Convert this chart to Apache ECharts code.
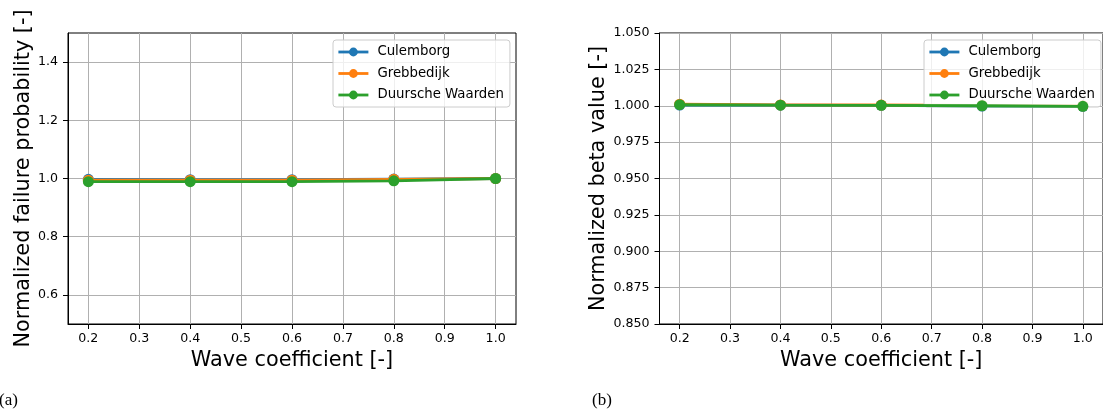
<!DOCTYPE html>
<html>
<head>
<meta charset="utf-8">
<script src="https://cdn.jsdelivr.net/npm/echarts@6/dist/echarts.min.js"></script>
<style>
  html, body { margin: 0; padding: 0; background: #ffffff; }
  #chart { width: 1103px; height: 416px; }
</style>
</head>
<body>
<div id="chart"></div>
<script>
// Wave coefficient sweep (x values shared by both panels)
const waveCoefficients = [0.2, 0.4, 0.6, 0.8, 1.0];
const locationNames = ['Culemborg', 'Grebbedijk', 'Duursche Waarden'];

// Panel (a): normalized failure probability
const failureCulemborg = [0.997, 0.996, 0.996, 0.998, 1.0];
const failureGrebbedijk = [0.994, 0.994, 0.994, 0.997, 1.0];
const failureDuursche = [0.989, 0.989, 0.989, 0.992, 1.0];

// Panel (b): normalized beta value
const betaCulemborg = [1.0005, 1.0004, 1.0003, 0.9998, 0.9996];
const betaGrebbedijk = [1.0011, 1.0006, 1.0005, 1.0003, 1.0];
const betaDuursche = [1.0007, 1.0004, 1.0003, 1.0, 0.9996];

// Tick positions
const xTicks = [0.2, 0.3, 0.4, 0.5, 0.6, 0.7, 0.8, 0.9, 1.0];
const failureTicks = [0.6, 0.8, 1.0, 1.2, 1.4];
const betaTicks = [0.85, 0.875, 0.9, 0.925, 0.95, 0.975, 1.0, 1.025, 1.05];

const colors = ['#1f77b4', '#ff7f0e', '#2ca02c'];
const FONT = 'DejaVu Sans';

function pairs(ys) {
  return waveCoefficients.map((x, i) => [x, ys[i]]);
}

function xAxisFor(gridIndex) {
  return {
    type: 'value', gridIndex: gridIndex,
    min: 0.16, max: 1.04, splitNumber: 9,
    name: 'Wave coefficient [-]', nameLocation: 'middle', nameGap: 26,
    nameTextStyle: { fontFamily: FONT, fontSize: 20.8, color: '#000' },
    axisLine: { show: true, onZero: false, lineStyle: { color: '#000', width: 1 } },
    axisTick: { show: true, length: 5, lineStyle: { color: '#000', width: 1 }, customValues: xTicks },
    axisLabel: { fontFamily: FONT, fontSize: 12.6, color: '#000', margin: 8,
                 customValues: xTicks, formatter: v => v.toFixed(1) },
    splitLine: { show: true, lineStyle: { color: '#b0b0b0', width: 1 } }
  };
}

function seriesFor(values, idx, xi) {
  return {
    name: locationNames[idx], type: 'line', xAxisIndex: xi, yAxisIndex: xi,
    data: pairs(values), symbol: 'circle', symbolSize: 11, showSymbol: true,
    lineStyle: { color: colors[idx], width: 2.8 },
    itemStyle: { color: colors[idx] },
    z: 2 + idx, animation: false
  };
}

function legendAt(left) {
  return {
    left: left, top: 40, orient: 'vertical',
    data: locationNames,
    itemWidth: 30, itemHeight: 11, itemGap: 8.5,
    padding: [5.5, 6, 5.5, 4],
    borderColor: '#cccccc', borderWidth: 1, borderRadius: 3,
    backgroundColor: 'rgba(255,255,255,0.8)',
    lineStyle: { width: 2.8 },
    textStyle: { fontFamily: FONT, fontSize: 13.3, color: '#000', padding: [0, 0, 0, 4] },
    selectedMode: false
  };
}

const chart = echarts.init(document.getElementById('chart'), null, { renderer: 'canvas' });

chart.setOption({
  backgroundColor: '#ffffff',
  animation: false,
  title: [
    { text: '(a)', left: -1, top: 392, padding: 0,
      textStyle: { fontFamily: 'Liberation Serif', fontSize: 17, fontWeight: 'normal', color: '#000' } },
    { text: '(b)', left: 592, top: 392, padding: 0,
      textStyle: { fontFamily: 'Liberation Serif', fontSize: 17, fontWeight: 'normal', color: '#000' } }
  ],
  grid: [
    { left: 68, top: 33, width: 448, height: 291, show: true, borderColor: '#000', borderWidth: 1, backgroundColor: 'transparent' },
    { left: 659.5, top: 33, width: 448, height: 291, show: true, borderColor: '#000', borderWidth: 1, backgroundColor: 'transparent' }
  ],
  legend: [legendAt(333), legendAt(924)],
  xAxis: [xAxisFor(0), xAxisFor(1)],
  yAxis: [
    {
      type: 'value', gridIndex: 0, min: 0.5, max: 1.5, splitNumber: 5,
      name: 'Normalized failure probability [-]', nameLocation: 'middle', nameGap: 34, nameRotate: 90,
      nameTextStyle: { fontFamily: FONT, fontSize: 20.8, color: '#000' },
      axisLine: { show: true, onZero: false, lineStyle: { color: '#000', width: 1 } },
      axisTick: { show: true, length: 5, lineStyle: { color: '#000', width: 1 }, customValues: failureTicks },
      axisLabel: { fontFamily: FONT, fontSize: 12.6, color: '#000', margin: 10,
                   customValues: failureTicks, formatter: v => v.toFixed(1) },
      splitLine: { show: true, lineStyle: { color: '#b0b0b0', width: 1 } }
    },
    {
      type: 'value', gridIndex: 1, min: 0.85, max: 1.05, interval: 0.025,
      name: 'Normalized beta value [-]', nameLocation: 'middle', nameGap: 50, nameRotate: 90,
      nameTextStyle: { fontFamily: FONT, fontSize: 20.8, color: '#000' },
      axisLine: { show: true, onZero: false, lineStyle: { color: '#000', width: 1 } },
      axisTick: { show: true, length: 5, lineStyle: { color: '#000', width: 1 }, customValues: betaTicks },
      axisLabel: { fontFamily: FONT, fontSize: 12.6, color: '#000', margin: 10,
                   customValues: betaTicks, formatter: v => v.toFixed(3) },
      splitLine: { show: true, lineStyle: { color: '#b0b0b0', width: 1 } }
    }
  ],
  series: [
    seriesFor(failureCulemborg, 0, 0),
    seriesFor(failureGrebbedijk, 1, 0),
    seriesFor(failureDuursche, 2, 0),
    seriesFor(betaCulemborg, 0, 1),
    seriesFor(betaGrebbedijk, 1, 1),
    seriesFor(betaDuursche, 2, 1)
  ]
});
</script>
</body>
</html>
